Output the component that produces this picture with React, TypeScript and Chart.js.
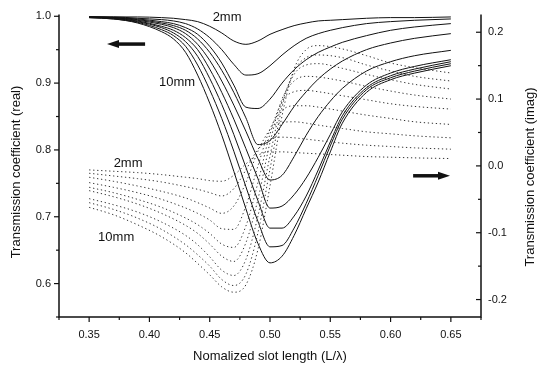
import React, { useEffect, useRef } from "react";
import { Chart, registerables } from "chart.js";

Chart.register(...registerables);

// ---------------- data ----------------
const slotLabels = ["2mm", "3mm", "4mm", "5mm", "6mm", "7mm", "8mm", "9mm", "10mm"];

// real part (left axis)
const realX = [0.35, 0.37, 0.39, 0.41, 0.42, 0.43, 0.44, 0.45, 0.46, 0.47, 0.48, 0.49, 0.50, 0.51, 0.52, 0.53, 0.54, 0.55, 0.56, 0.58, 0.60, 0.62, 0.65];
const real2mm = [0.999, 0.999, 0.999, 0.998, 0.997, 0.995, 0.992, 0.985, 0.975, 0.963, 0.958, 0.963, 0.973, 0.980, 0.986, 0.990, 0.993, 0.994, 0.995, 0.997, 0.998, 0.998, 0.999];
const real3mm = [0.999, 0.999, 0.997, 0.995, 0.993, 0.989, 0.981, 0.968, 0.950, 0.928, 0.912, 0.914, 0.926, 0.942, 0.956, 0.967, 0.974, 0.979, 0.983, 0.989, 0.992, 0.994, 0.996];
const real4mm = [0.999, 0.998, 0.996, 0.992, 0.989, 0.983, 0.973, 0.955, 0.930, 0.897, 0.864, 0.862, 0.876, 0.900, 0.920, 0.935, 0.946, 0.954, 0.961, 0.971, 0.979, 0.984, 0.989];
const real5mm = [0.999, 0.998, 0.995, 0.990, 0.986, 0.979, 0.966, 0.946, 0.919, 0.886, 0.848, 0.808, 0.814, 0.838, 0.865, 0.887, 0.906, 0.921, 0.933, 0.950, 0.960, 0.967, 0.974];
const real6mm = [0.999, 0.998, 0.994, 0.988, 0.983, 0.974, 0.958, 0.934, 0.903, 0.867, 0.828, 0.787, 0.755, 0.762, 0.790, 0.822, 0.850, 0.873, 0.892, 0.918, 0.932, 0.941, 0.949];
const real7mm = [0.999, 0.997, 0.993, 0.985, 0.979, 0.968, 0.950, 0.921, 0.886, 0.846, 0.802, 0.757, 0.713, 0.716, 0.733, 0.758, 0.789, 0.823, 0.857, 0.897, 0.915, 0.925, 0.935];
const real8mm = [0.998, 0.997, 0.992, 0.983, 0.975, 0.962, 0.940, 0.907, 0.868, 0.823, 0.774, 0.724, 0.683, 0.683, 0.701, 0.731, 0.770, 0.812, 0.851, 0.893, 0.911, 0.921, 0.932];
const real9mm = [0.998, 0.996, 0.991, 0.980, 0.971, 0.955, 0.927, 0.890, 0.847, 0.798, 0.745, 0.693, 0.655, 0.657, 0.683, 0.720, 0.762, 0.806, 0.846, 0.890, 0.908, 0.918, 0.929];
const real10mm = [0.998, 0.996, 0.990, 0.977, 0.966, 0.946, 0.912, 0.870, 0.822, 0.768, 0.712, 0.660, 0.631, 0.641, 0.672, 0.712, 0.752, 0.797, 0.840, 0.886, 0.905, 0.915, 0.926];

// imaginary part (right axis)
const imagX = [0.35, 0.37, 0.39, 0.41, 0.43, 0.44, 0.45, 0.46, 0.47, 0.48, 0.49, 0.50, 0.51, 0.52, 0.53, 0.54, 0.56, 0.58, 0.60, 0.62, 0.65];
const imag2mm = [-0.006, -0.008, -0.010, -0.013, -0.017, -0.019, -0.022, -0.023, -0.014, 0.003, 0.016, 0.021, 0.021, 0.020, 0.019, 0.018, 0.016, 0.014, 0.013, 0.012, 0.011];
const imag3mm = [-0.011, -0.015, -0.019, -0.024, -0.031, -0.035, -0.040, -0.045, -0.034, -0.006, 0.025, 0.040, 0.043, 0.042, 0.040, 0.038, 0.034, 0.031, 0.029, 0.027, 0.025];
const imag4mm = [-0.017, -0.023, -0.030, -0.038, -0.048, -0.055, -0.063, -0.071, -0.060, -0.025, 0.022, 0.054, 0.065, 0.066, 0.064, 0.061, 0.056, 0.051, 0.048, 0.045, 0.042];
const imag5mm = [-0.025, -0.032, -0.040, -0.050, -0.063, -0.071, -0.081, -0.094, -0.095, -0.060, 0.000, 0.055, 0.083, 0.090, 0.090, 0.088, 0.082, 0.076, 0.071, 0.066, 0.062];
const imag6mm = [-0.032, -0.040, -0.050, -0.062, -0.078, -0.088, -0.101, -0.117, -0.122, -0.090, -0.025, 0.048, 0.096, 0.111, 0.113, 0.111, 0.105, 0.099, 0.093, 0.089, 0.085];
const imag7mm = [-0.037, -0.046, -0.057, -0.071, -0.089, -0.101, -0.117, -0.135, -0.143, -0.115, -0.050, 0.035, 0.100, 0.127, 0.134, 0.133, 0.127, 0.119, 0.112, 0.106, 0.100];
const imag8mm = [-0.049, -0.058, -0.069, -0.084, -0.104, -0.118, -0.136, -0.156, -0.164, -0.140, -0.075, 0.015, 0.095, 0.137, 0.151, 0.153, 0.146, 0.137, 0.129, 0.122, 0.115];
const imag9mm = [-0.055, -0.065, -0.078, -0.095, -0.118, -0.133, -0.150, -0.170, -0.179, -0.162, -0.100, -0.005, 0.088, 0.142, 0.162, 0.166, 0.162, 0.151, 0.142, 0.134, 0.127];
const imag10mm = [-0.062, -0.073, -0.088, -0.106, -0.130, -0.146, -0.163, -0.181, -0.189, -0.178, -0.125, -0.030, 0.075, 0.145, 0.174, 0.180, 0.175, 0.165, 0.154, 0.147, 0.139];

// axis ticks
const xMajorTicks = [0.35, 0.40, 0.45, 0.50, 0.55, 0.60, 0.65];
const xMinorTicks = [0.325, 0.375, 0.425, 0.475, 0.525, 0.575, 0.625, 0.675];
const realMajorTicks = [0.6, 0.7, 0.8, 0.9, 1.0];
const realMinorTicks = [0.55, 0.65, 0.75, 0.85, 0.95];
const imagMajorTicks = [-0.2, -0.1, 0.0, 0.1, 0.2];
const imagMinorTicks = [-0.15, -0.05, 0.05, 0.15];

// text
const xTitle = "Nomalized slot length (L/\u03bb)";
const leftTitle = "Transmission coefficient (real)";
const rightTitle = "Transmission coefficient (imag)";

const FONT = '"Liberation Sans", Arial, Helvetica, sans-serif';
const INK = "#111";

const realSeries = [real2mm, real3mm, real4mm, real5mm, real6mm, real7mm, real8mm, real9mm, real10mm];
const imagSeries = [imag2mm, imag3mm, imag4mm, imag5mm, imag6mm, imag7mm, imag8mm, imag9mm, imag10mm];

const decorPlugin = {
  id: "decor",
  afterDatasetsDraw(chart: any) {
    const { ctx, chartArea: a, scales } = chart;
    const sx = scales.x;
    const sl = scales.y;
    const sr = scales.y1;
    ctx.save();
    ctx.strokeStyle = INK;
    ctx.fillStyle = INK;
    ctx.setLineDash([]);
    const seg = (x1: number, y1: number, x2: number, y2: number) => {
      ctx.beginPath();
      ctx.moveTo(x1, y1);
      ctx.lineTo(x2, y2);
      ctx.stroke();
    };
    // frame (no top line)
    ctx.lineWidth = 1.5;
    ctx.beginPath();
    ctx.moveTo(a.left, a.top);
    ctx.lineTo(a.left, a.bottom);
    ctx.lineTo(a.right, a.bottom);
    ctx.lineTo(a.right, a.top);
    ctx.stroke();
    // ticks
    ctx.lineWidth = 1.2;
    xMajorTicks.forEach((v) => { const p = sx.getPixelForValue(v); seg(p, a.bottom, p, a.bottom + 5); });
    xMinorTicks.forEach((v) => { const p = sx.getPixelForValue(v); seg(p, a.bottom, p, a.bottom + 3); });
    realMajorTicks.forEach((v) => { const p = sl.getPixelForValue(v); seg(a.left - 5, p, a.left, p); });
    realMinorTicks.forEach((v) => { const p = sl.getPixelForValue(v); seg(a.left - 3, p, a.left, p); });
    imagMajorTicks.forEach((v) => { const p = sr.getPixelForValue(v); seg(a.right - 5, p, a.right, p); });
    imagMinorTicks.forEach((v) => { const p = sr.getPixelForValue(v); seg(a.right - 3, p, a.right, p); });

    // axis titles
    ctx.font = `13px ${FONT}`;
    ctx.textAlign = "center";
    ctx.textBaseline = "middle";
    ctx.fillText(xTitle, (a.left + a.right) / 2, 356);
    ctx.save();
    ctx.translate(16, 172);
    ctx.rotate(-Math.PI / 2);
    ctx.fillText(leftTitle, 0, 0);
    ctx.restore();
    ctx.save();
    ctx.translate(530, 177);
    ctx.rotate(-Math.PI / 2);
    ctx.fillText(rightTitle, 0, 0);
    ctx.restore();

    // curve labels
    ctx.font = `13px ${FONT}`;
    ctx.fillText(slotLabels[0], sx.getPixelForValue(0.4644), sl.getPixelForValue(0.998));
    ctx.fillText(slotLabels[8], sx.getPixelForValue(0.4229), sl.getPixelForValue(0.901));
    ctx.fillText(slotLabels[0], sx.getPixelForValue(0.3823), sl.getPixelForValue(0.780));
    ctx.fillText(slotLabels[8], sx.getPixelForValue(0.3724), sl.getPixelForValue(0.669));

    // arrows
    const arrow = (tip: number, tail: number, yy: number, dir: number) => {
      ctx.lineWidth = 3.5;
      seg(tail, yy, tip - dir * 8, yy);
      ctx.beginPath();
      ctx.moveTo(tip, yy);
      ctx.lineTo(tip - dir * 12, yy - 4);
      ctx.lineTo(tip - dir * 12, yy + 4);
      ctx.closePath();
      ctx.fill();
    };
    arrow(sx.getPixelForValue(0.3648), sx.getPixelForValue(0.3964), sl.getPixelForValue(0.9584), -1);
    arrow(sx.getPixelForValue(0.6493), sx.getPixelForValue(0.6187), sr.getPixelForValue(-0.0148), 1);
    ctx.restore();
  },
};

export default function App() {
  const ref = useRef<HTMLCanvasElement | null>(null);

  useEffect(() => {
    if (!ref.current) return;
    const datasets: any[] = [];
    imagSeries.forEach((vals, i) => {
      datasets.push({
        label: `${slotLabels[i]} imag`,
        data: vals.map((v, j) => ({ x: imagX[j], y: v })),
        yAxisID: "y1",
        borderColor: "#333",
        borderWidth: 1,
        borderDash: [1.3, 2.7],
        pointRadius: 0,
        cubicInterpolationMode: "monotone",
        fill: false,
      });
    });
    realSeries.forEach((vals, i) => {
      datasets.push({
        label: `${slotLabels[i]} real`,
        data: vals.map((v, j) => ({ x: realX[j], y: v })),
        yAxisID: "y",
        borderColor: INK,
        borderWidth: 1,
        pointRadius: 0,
        cubicInterpolationMode: "monotone",
        fill: false,
      });
    });

    const tickFont = { family: FONT, size: 11 };
    const chart = new Chart(ref.current, {
      type: "line",
      data: { datasets },
      plugins: [decorPlugin],
      options: {
        animation: false,
        responsive: false,
        maintainAspectRatio: false,
        layout: { padding: { top: 14, left: 0, right: 0, bottom: 0 } },
        plugins: { legend: { display: false }, tooltip: { enabled: false } },
        scales: {
          x: {
            type: "linear",
            min: 0.325,
            max: 0.675,
            grid: { display: false, drawTicks: false },
            border: { display: false },
            afterBuildTicks: (s: any) => { s.ticks = xMajorTicks.map((v) => ({ value: v })); },
            afterFit: (s: any) => { s.height = 50; },
            ticks: { padding: 11, font: tickFont, color: INK, maxRotation: 0, callback: (v: any) => Number(v).toFixed(2) },
          },
          y: {
            type: "linear",
            position: "left",
            min: 0.55,
            max: 1.0025,
            grid: { display: false, drawTicks: false },
            border: { display: false },
            afterBuildTicks: (s: any) => { s.ticks = realMajorTicks.map((v) => ({ value: v })); },
            afterFit: (s: any) => { s.width = 59; },
            ticks: { padding: 8, font: tickFont, color: INK, callback: (v: any) => Number(v).toFixed(1) },
          },
          y1: {
            type: "linear",
            position: "right",
            min: -0.2261,
            max: 0.2264,
            grid: { display: false, drawTicks: false },
            border: { display: false },
            afterBuildTicks: (s: any) => { s.ticks = imagMajorTicks.map((v) => ({ value: v })); },
            afterFit: (s: any) => { s.width = 58; },
            ticks: { padding: 7, font: tickFont, color: INK, callback: (v: any) => Number(v).toFixed(1) },
          },
        },
      } as any,
    });
    return () => chart.destroy();
  }, []);

  return (
    <div style={{ position: "fixed", left: 0, top: 0, width: 539, height: 367, background: "#fff" }}>
      <canvas ref={ref} width={539} height={367} style={{ display: "block" }} />
    </div>
  );
}
